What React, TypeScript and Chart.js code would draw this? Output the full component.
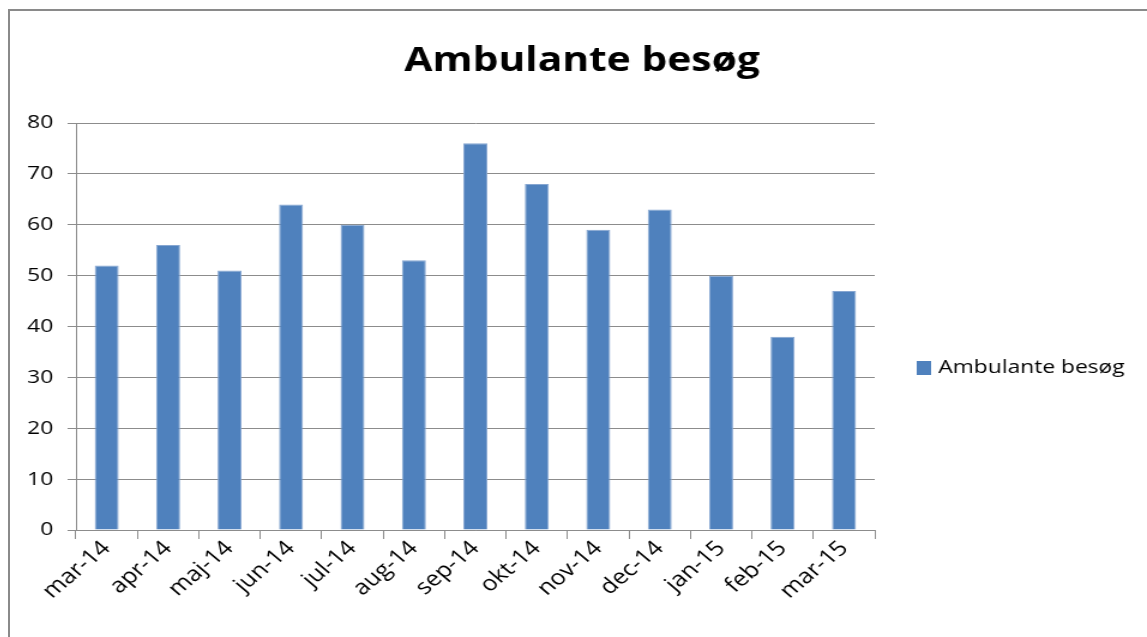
import React, { useEffect, useRef } from "react";
import { Chart, registerables } from "chart.js";

Chart.register(...registerables);

const categories = ["mar-14", "apr-14", "maj-14", "jun-14", "jul-14", "aug-14", "sep-14", "okt-14", "nov-14", "dec-14", "jan-15", "feb-15", "mar-15"];
const seriesName = "Ambulante besøg";
const seriesValues = [52, 56, 51, 64, 60, 53, 76, 68, 59, 63, 50, 38, 47];
const yTicks = { min: 0, max: 80, step: 10 };

const FONT = "'Open Sans', 'Liberation Sans', sans-serif";
const BAR = "#4F81BD";
const GRID = "#8c8c8c";

// The reference picture is horizontally stretched; draw on a narrower canvas and stretch it with CSS.
const CSS_W = 1137;
const CSS_H = 626;
const CANVAS_W = 948;

const overlayPlugin = {
  id: "overlayTexts",
  afterDraw(chart: any) {
    const ctx = chart.ctx;
    const ds = chart.data.datasets[0];
    ctx.save();
    // title, centred on the whole canvas
    ctx.fillStyle = "#000";
    ctx.font = "bold 34px " + FONT;
    ctx.textAlign = "center";
    ctx.textBaseline = "middle";
    ctx.fillText(ds.label, chart.width / 2 + 3, 50);
    // legend
    const x = chart.chartArea.right + 35;
    const y = 357;
    ctx.fillStyle = ds.backgroundColor;
    ctx.fillRect(x, y - 7, 12, 14);
    ctx.fillStyle = "#000";
    ctx.font = "19px " + FONT;
    ctx.textAlign = "left";
    ctx.fillText(ds.label, x + 18, y);
    ctx.restore();
  },
};

export default function App() {
  const ref = useRef<HTMLCanvasElement>(null);
  useEffect(() => {
    const chart = new Chart(ref.current!, {
      type: "bar",
      data: {
        labels: categories,
        datasets: [
          {
            label: seriesName,
            data: seriesValues,
            backgroundColor: BAR,
            borderColor: "#86a6d1",
            borderWidth: 1,
            barPercentage: 0.39,
            categoryPercentage: 1,
          },
        ],
      },
      plugins: [overlayPlugin],
      options: {
        animation: false,
        responsive: false,
        maintainAspectRatio: false,
        layout: { padding: { top: 112, right: 227, left: 0, bottom: 0 } },
        plugins: {
          legend: { display: false },
          tooltip: { enabled: false },
          title: { display: false },
        },
        scales: {
          x: {
            offset: true,
            grid: {
              offset: true,
              drawOnChartArea: false,
              drawTicks: true,
              tickLength: 9,
              color: GRID,
            },
            border: { color: GRID, width: 1 },
            ticks: {
              color: "#000",
              font: { family: FONT, size: 21 },
              minRotation: 45,
              maxRotation: 45,
              padding: -3,
              autoSkip: false,
            },
            afterFit(scale: any) {
              scale.height = 107;
            },
          },
          y: {
            min: yTicks.min,
            max: yTicks.max,
            grid: { color: GRID, tickLength: 7 },
            border: { color: GRID, width: 1 },
            ticks: {
              stepSize: yTicks.step,
              color: "#000",
              font: { family: FONT, size: 19 },
              padding: 12,
            },
            afterFit(scale: any) {
              scale.width = 55;
            },
          },
        },
      },
    });
    return () => chart.destroy();
  }, []);
  return (
    <div
      style={{
        position: "fixed",
        left: 8,
        top: 9,
        width: 1139,
        height: 628,
        borderTop: "2px solid #8a8a8a",
        borderLeft: "2px solid #8a8a8a",
        background: "#fff",
      }}
    >
      <canvas
        ref={ref}
        width={CANVAS_W}
        height={CSS_H}
        style={{ display: "block", width: CSS_W + "px", height: CSS_H + "px" }}
      />
    </div>
  );
}
